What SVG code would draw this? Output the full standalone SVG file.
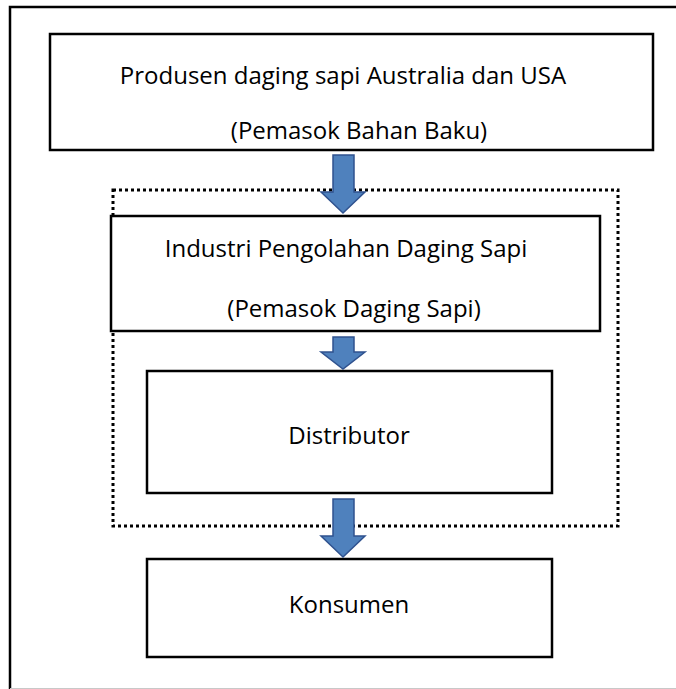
<svg xmlns="http://www.w3.org/2000/svg" width="676" height="689" viewBox="0 0 676 689">
<style>
.box{fill:#fff;stroke:#000;stroke-width:2.5}
.t{font-family:"Open Sans","Liberation Sans",sans-serif;font-size:24px;fill:#000;text-anchor:middle}
.arr{fill:#4F81BD;stroke:#2F528F;stroke-width:1.5;stroke-linejoin:miter}
</style>
<rect x="0" y="0" width="676" height="689" fill="#fff"/>
<path d="M680,7 H10 V689" fill="none" stroke="#000" stroke-width="2.5"/>
<line x1="10" y1="688.5" x2="676" y2="688.5" stroke="#c8c8c8" stroke-width="1"/>
<rect x="113" y="190" width="505" height="336" fill="none" stroke="#000" stroke-width="3" stroke-dasharray="3,3"/>
<g id="n1">
<rect class="box" x="50" y="34" width="603" height="116"/>
<text class="t" x="343" y="84">Produsen daging sapi Australia dan USA</text>
<text class="t" x="359" y="139">(Pemasok Bahan Baku)</text>
</g>
<g id="n2">
<rect class="box" x="111" y="216" width="489" height="115"/>
<text class="t" x="346" y="257">Industri Pengolahan Daging Sapi</text>
<text class="t" x="354" y="317">(Pemasok Daging Sapi)</text>
</g>
<g id="n3">
<rect class="box" x="147" y="371" width="405" height="122"/>
<text class="t" x="349" y="444">Distributor</text>
</g>
<g id="n4">
<rect class="box" x="147" y="559" width="405" height="98"/>
<text class="t" x="349" y="613">Konsumen</text>
</g>
<g id="connectors">
<path class="arr" d="M333,155 H354 V192 H365 L343,213 L321,192 H333 Z"/>
<path class="arr" d="M333,337 H354 V352 H365 L343,369 L321,352 H333 Z"/>
<path class="arr" d="M333,499 H354 V536 H365 L343,557 L321,536 H333 Z"/>
</g>
</svg>
